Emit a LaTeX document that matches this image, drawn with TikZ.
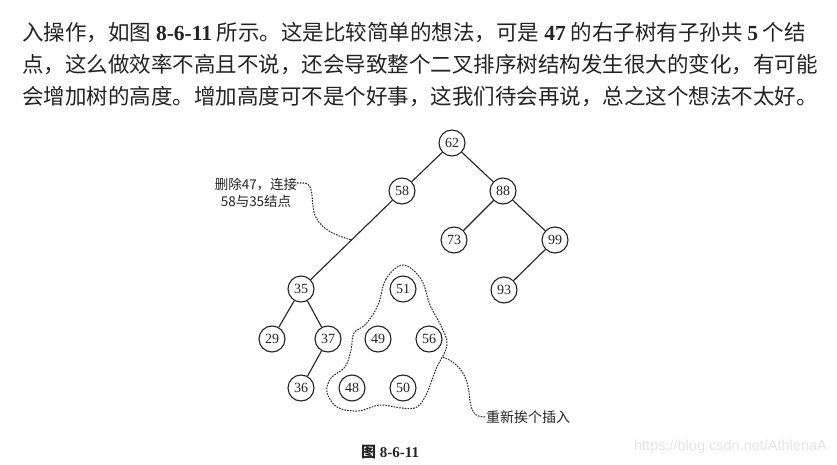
\documentclass[tikz,border=0pt]{standalone}
\usepackage{fontspec}
\setmainfont{Liberation Serif}
\newfontfamily\cjk{Noto Sans CJK SC}
\newfontfamily\websans{Liberation Sans}
\usetikzlibrary{calc}
\definecolor{inkgray}{RGB}{35,35,35}
\definecolor{marklight}{RGB}{228,228,228}
\newcommand\numtxt[1]{{\rmfamily\bfseries #1}}

\begin{document}
\begin{tikzpicture}[x=1pt,y=-1pt,
  key/.style={circle,draw=inkgray,line width=1.1pt,text=inkgray,minimum size=26pt,
    inner sep=0pt,font=\fontsize{14}{14}\selectfont},
  link/.style={draw=inkgray,line width=1.1pt},
  note/.style={draw=inkgray,line width=1pt,dash pattern=on 1.6pt off 1.2pt},
  para/.style={anchor=west,inner sep=0pt,text=inkgray,font=\cjk\fontsize{21.5}{21.5}\selectfont},
  remark/.style={inner sep=0pt,text=inkgray,font=\cjk\fontsize{13.5}{16.5}\selectfont}
]
\useasboundingbox (0,0) rectangle (837,465);

% Top: running text
\node[para] (line1) at (22,33) {入操作，如图 \numtxt{8-6-11} 所示。这是比较简单的想法，可是 \numtxt{47} 的右子树有子孙共 \numtxt{5} 个结};
\node[para] (line2) at (22,65) {点，这么做效率不高且不说，还会导致整个二叉排序树结构发生很大的变化，有可能};
\node[para] (line3) at (22,97) {会增加树的高度。增加高度可不是个好事，这我们待会再说，总之这个想法不太好。};

% Tree that stays
\node[key] (n62) at (452,143) {62};
\node[key] (n58) at (402,191) {58};
\node[key] (n88) at (503,191) {88};
\node[key] (n73) at (454,240) {73};
\node[key] (n99) at (555,240) {99};
\node[key] (n93) at (504,290) {93};
\node[key] (n35) at (301,289) {35};
\node[key] (n29) at (272,339) {29};
\node[key] (n37) at (328,339) {37};
\node[key] (n36) at (301,388) {36};

\draw[link] (n62) -- (n58);
\draw[link] (n62) -- (n88);
\draw[link] (n88) -- (n73);
\draw[link] (n88) -- (n99);
\draw[link] (n99) -- (n93);
\draw[link] (n58) -- (n35);
\draw[link] (n35) -- (n29);
\draw[link] (n35) -- (n37);
\draw[link] (n37) -- (n36);

% Loose nodes of the right subtree of 47
\node[key] (n51) at (403,289) {51};
\node[key] (n49) at (378,339) {49};
\node[key] (n56) at (429,339) {56};
\node[key] (n48) at (352,388) {48};
\node[key] (n50) at (403,388) {50};

\draw[note] plot[smooth cycle,tension=0.6] coordinates {
  (403,265) (386,279) (378,305) (366,324) (354,333) (351,350) (345,367)
  (331,378) (327,392) (337,407) (358,411) (380,405) (401,408) (417,407)
  (427,393) (436,369) (447,345) (441,326) (430,305) (421,279)};

% Notes
\node[remark,align=center] (cutnote) at (256,193) {删除47，连接\\58与35结点};
\coordinate (cutend) at (297,183);
\coordinate (cut) at ($(n58)!0.5!(n35)$);
\draw[note] (cutend) -- (305,183) .. controls (314,185) and (311,199) .. (314,212)
  .. controls (318,228) and (334,235) .. (cut);

\node[remark,anchor=west,font=\cjk\fontsize{14}{14}\selectfont] (reinsert) at (486,417) {重新挨个插入};
\coordinate (blobtip) at (443,357);
\draw[note] (blobtip) .. controls (456,362) and (467,372) .. (469,393)
  .. controls (471,413) and (474,417) .. (reinsert.west);

% Caption and mark
\node[anchor=west,inner sep=0pt,text=inkgray,font=\fontsize{15}{15}\selectfont\bfseries] (caption) at (361,452) {{\cjk 图} 8-6-11};
\node[anchor=east,inner sep=0pt,text=marklight,font=\websans\fontsize{14.5}{14.5}\selectfont] (mark) at (827,447) {https://blog.csdn.net/AthlenaA};

\end{tikzpicture}
\end{document}
